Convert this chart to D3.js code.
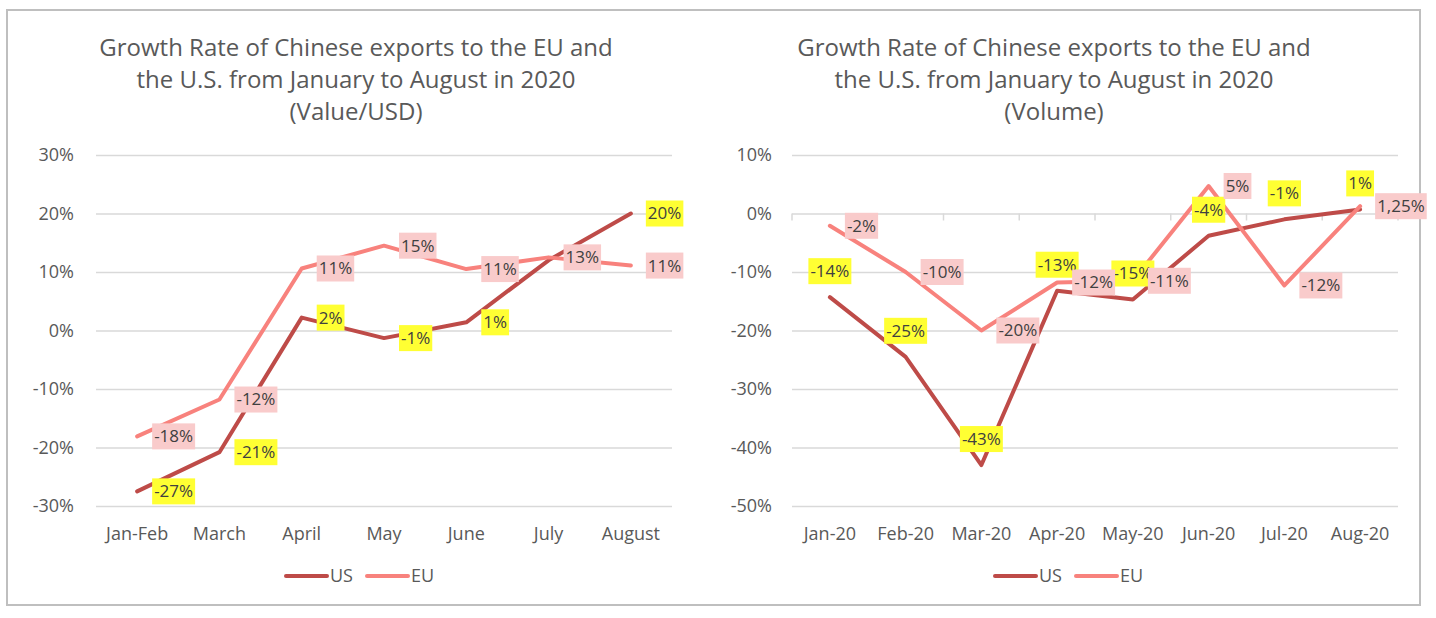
<!DOCTYPE html>
<html><head><meta charset="utf-8">
<script src="https://cdn.jsdelivr.net/npm/d3@7"></script>
<style>
body{margin:0;background:#fff;}
svg{display:block;font-family:"Open Sans",sans-serif;}
</style></head>
<body><svg id="c" width="1436" height="618"></svg>
<script>
// ---- Data ----
const leftCategories = ["Jan-Feb","March","April","May","June","July","August"];
const leftUS = [-27.5, -20.8, 2.2, -1.3, 1.4, 12.0, 20.0];
const leftEU = [-18.1, -11.8, 10.6, 14.5, 10.5, 12.5, 11.1];
const leftUSLabels = ["-27%","-21%","2%","-1%","1%",null,"20%"];
const leftEULabels = ["-18%","-12%","11%","15%","11%","13%","11%"];
const leftTicks = [-30,-20,-10,0,10,20,30];

const rightCategories = ["Jan-20","Feb-20","Mar-20","Apr-20","May-20","Jun-20","Jul-20","Aug-20"];
const rightUS = [-14.3, -24.5, -43.0, -13.2, -14.7, -3.8, -1.0, 0.7];
const rightEU = [-2.1, -10.0, -20.0, -11.8, -11.5, 4.7, -12.3, 1.25];
const rightUSLabels = ["-14%","-25%","-43%","-13%","-15%","-4%","-1%","1%"];
const rightEULabels = ["-2%","-10%","-20%","-12%","-11%","5%","-12%","1,25%"];
const rightTicks = [-50,-40,-30,-20,-10,0,10];

const titleLines = ["Growth Rate of Chinese exports to the EU and","the U.S. from January to August in 2020"];
const leftSubtitle = "(Value/USD)";
const rightSubtitle = "(Volume)";
const seriesNames = ["US","EU"];

// ---- Styles ----
const US_COLOR = "#be4b48", EU_COLOR = "#f8827d";
const US_FILL = "#ffff33", EU_FILL = "#f9cbcb";
const TXT = "#595959";

const svg = d3.select("#c");
svg.append("rect").attr("x",7).attr("y",10).attr("width",1413).attr("height",595)
  .attr("fill","#fff").attr("stroke","#bfbfbf").attr("stroke-width",2);

function drawChart(opt){
  const g = svg.append("g");
  const x = d3.scaleBand().domain(opt.categories).range([opt.x0,opt.x1]);
  const y = d3.scaleLinear().domain(opt.domain).range([506,155]);
  const cx = c => x(c) + x.bandwidth()/2;

  // title
  const t = g.append("text").attr("text-anchor","middle").attr("fill",TXT)
    .attr("font-size",24);
  [...titleLines, opt.subtitle].forEach((s,i)=>{
    t.append("tspan").attr("x",opt.titleX).attr("y",56+i*32).text(s);
  });

  // grid + y axis
  const ya = d3.axisLeft(y).tickValues(opt.ticks).tickSize(-(opt.x1-opt.x0)).tickFormat(d=>d+"%");
  const yg = g.append("g").attr("transform",`translate(${opt.x0},0)`).call(ya);
  yg.select(".domain").remove();
  yg.selectAll(".tick line").attr("stroke","#d9d9d9").attr("stroke-width",1.5);
  yg.selectAll(".tick text").attr("fill",TXT).attr("font-size",18).attr("x",-opt.yLabelGap)
    .attr("font-family","Open Sans");

  // x axis category labels
  const xa = d3.axisBottom(x).tickSize(0).tickPadding(0);
  const xg = g.append("g").attr("transform",`translate(0,${527})`).call(xa);
  xg.select(".domain").remove();
  xg.selectAll(".tick text").attr("fill",TXT).attr("font-size",18).attr("dy","0.71em")
    .attr("font-family","Open Sans");

  // small tick marks on zero line (right chart)
  if(opt.zeroTicks){
    const bounds = opt.categories.map(c=>x(c)).concat([opt.x1]);
    g.selectAll(".zt").data(bounds).enter().append("line")
      .attr("x1",d=>d).attr("x2",d=>d).attr("y1",y(0)).attr("y2",y(0)+7)
      .attr("stroke","#d9d9d9").attr("stroke-width",1.5);
  }

  const line = d3.line().x((d,i)=>cx(opt.categories[i])).y(d=>y(d));
  g.append("path").datum(opt.us).attr("d",line).attr("fill","none")
    .attr("stroke",US_COLOR).attr("stroke-width",4).attr("stroke-linejoin","round").attr("stroke-linecap","round");
  g.append("path").datum(opt.eu).attr("d",line).attr("fill","none")
    .attr("stroke",EU_COLOR).attr("stroke-width",4).attr("stroke-linejoin","round").attr("stroke-linecap","round");

  function labels(vals, texts, fill, mode){
    vals.forEach((v,i)=>{
      if(texts[i]==null) return;
      const px = cx(opt.categories[i]), py = y(v);
      const lg = g.append("g");
      const tx = lg.append("text").attr("font-size",17).attr("fill","#404040")
        .attr("font-family","Open Sans").text(texts[i]);
      const w = tx.node().getComputedTextLength();
      let lx, ly;
      if(mode==="above"){ lx = px - w/2; ly = py - 26; }
      else { lx = px + 17; ly = py; }
      tx.attr("x",lx).attr("y",ly).attr("dy","0.35em");
      lg.insert("rect","text").attr("x",lx-2).attr("y",ly-13).attr("width",w+4).attr("height",26)
        .attr("fill",fill);
    });
  }
  labels(opt.us, opt.usLabels, US_FILL, opt.usMode);
  labels(opt.eu, opt.euLabels, EU_FILL, "right");

  // legend
  const lgd = g.append("g");
  let lx = opt.legendX;
  [[seriesNames[0],US_COLOR],[seriesNames[1],EU_COLOR]].forEach(([n,c])=>{
    lgd.append("line").attr("x1",lx).attr("x2",lx+41).attr("y1",576).attr("y2",576)
      .attr("stroke",c).attr("stroke-width",4).attr("stroke-linecap","round");
    const tt = lgd.append("text").attr("x",lx+44).attr("y",576).attr("dy","0.35em")
      .attr("font-size",18).attr("fill",TXT).text(n);
    lx += 44 + tt.node().getComputedTextLength() + 14;
  });
}

drawChart({categories:leftCategories, us:leftUS, eu:leftEU, usLabels:leftUSLabels, euLabels:leftEULabels,
  ticks:leftTicks, domain:[-30,30], x0:96, x1:672, titleX:356, subtitle:leftSubtitle, usMode:"right",
  legendX:286, zeroTicks:false, yLabelGap:22});
drawChart({categories:rightCategories, us:rightUS, eu:rightEU, usLabels:rightUSLabels, euLabels:rightEULabels,
  ticks:rightTicks, domain:[-50,10], x0:792, x1:1398, titleX:1054, subtitle:rightSubtitle, usMode:"above",
  legendX:995, zeroTicks:true, yLabelGap:20});
</script></body></html>
